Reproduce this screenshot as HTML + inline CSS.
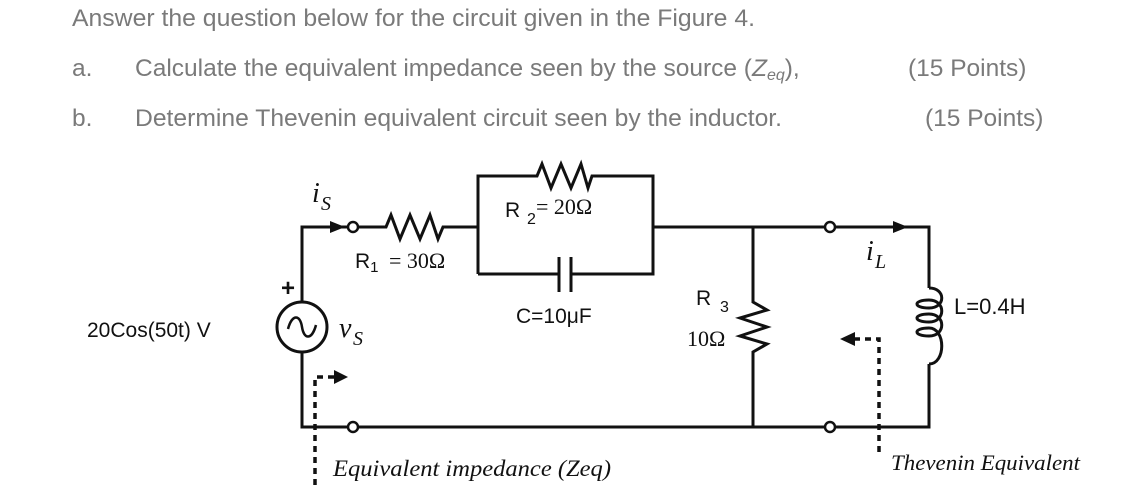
<!DOCTYPE html>
<html><head><meta charset="utf-8"><style>
html,body{margin:0;padding:0;background:#fff;}
svg{display:block;}
.q{font-family:"Liberation Sans",sans-serif;font-size:24.5px;fill:#7a7a7a;}
.s{font-family:"Liberation Sans",sans-serif;fill:#111;}
.r{font-family:"Liberation Serif",serif;fill:#111;}
.h{font-family:"Liberation Serif",serif;font-style:italic;fill:#111;}
</style></head><body>
<svg width="1147" height="502" viewBox="0 0 1147 502">
<text class="q" x="72" y="26" textLength="683" lengthAdjust="spacingAndGlyphs">Answer the question below for the circuit given in the Figure 4.</text>
<text class="q" x="72" y="76">a.</text>
<text class="q" x="135" y="76">Calculate the equivalent impedance seen by the source (<tspan font-style="italic">Z</tspan><tspan font-style="italic" style="font-size:16px" dy="4">eq</tspan><tspan dy="-4">),</tspan></text>
<text class="q" x="908" y="76">(15 Points)</text>
<text class="q" x="72" y="126">b.</text>
<text class="q" x="135" y="126" textLength="647" lengthAdjust="spacingAndGlyphs">Determine Thevenin equivalent circuit seen by the inductor.</text>
<text class="q" x="925" y="126">(15 Points)</text>

<g stroke="#111" stroke-width="3" fill="none">
<polyline points="348,227 302,227 302,302"/>
<polyline points="302,352 302,427 348,427"/>
<circle cx="302" cy="327" r="25"/>
<path d="M288,329 C292,314 300,314 302,327 C304,340 312,340 316,325" stroke-width="2.5"/>
<circle cx="353" cy="227" r="5" fill="#fff" stroke-width="2.5"/>
<circle cx="353" cy="427" r="5" fill="#fff" stroke-width="2.5"/>
<polyline points="358,227 386,227 391,215 400,239 410,215 420,239 430,215 438,239 443,227 478,227"/>
<polyline points="478,274 478,176 537,176 542,164 551,188 561,164 571,188 581,164 588,188 592,176 653,176 653,274 571,274"/>
<line x1="478" y1="274" x2="559" y2="274"/>
<line x1="559" y1="257" x2="559" y2="292"/>
<line x1="571" y1="257" x2="571" y2="292"/>
<line x1="653" y1="227" x2="825" y2="227"/>
<polyline points="835,227 929,227 929,288"/>
<circle cx="830" cy="227" r="5" fill="#fff" stroke-width="2.5"/>
<line x1="358" y1="427" x2="825" y2="427"/>
<polyline points="835,427 929,427 929,364"/>
<circle cx="830" cy="427" r="5" fill="#fff" stroke-width="2.5"/>
<polyline points="753,227 753,302 767,310 740,318 767,327 740,336 767,344 753,352 753,427"/>
<path d="M929,288 C946,288 946,308 929,308 C913,308 913,300 929,300 C946,300 946,322 929,322 C913,322 913,314 929,314 C946,314 946,336 929,336 C913,336 913,328 929,328 C946,328 946,364 929,364"/>
</g>
<polygon points="330,221 345,227 330,233" fill="#111"/>
<polygon points="893,221 908,227 893,233" fill="#111"/>
<text x="281" y="296" font-family="Liberation Sans" font-weight="bold" font-size="24" fill="#111">+</text>
<g stroke="#111" stroke-width="3.5" fill="none" stroke-dasharray="6,5">
<polyline points="315,485 315,377 335,377"/>
<polyline points="879,452 879,339 855,339"/>
</g>
<polygon points="334,370 348,377 334,384" fill="#111"/>
<polygon points="855,332 840,339 855,346" fill="#111"/>

<text class="h" x="312" y="202" style="font-size:28px">i</text><text class="h" x="321" y="210" style="font-size:20px">S</text>
<text class="s" x="355" y="268" style="font-size:21px">R<tspan style="font-size:15px" dy="4">1</tspan></text>
<text class="r" x="389" y="268" style="font-size:22px">= 30Ω</text>
<text class="s" x="505" y="217" style="font-size:21px">R</text><text class="s" x="527" y="224" style="font-size:16px">2</text>
<text class="r" x="536" y="214" style="font-size:22px">= 20Ω</text>
<text class="s" x="516" y="323" style="font-size:21px">C=10μF</text>
<text class="s" x="87" y="337" style="font-size:21px">20Cos(50t) V</text>
<text class="h" x="339" y="337" style="font-size:28px">v</text><text class="h" x="353" y="345" style="font-size:20px">S</text>
<text class="s" x="696" y="305" style="font-size:21px">R</text><text class="s" x="720" y="312" style="font-size:16px">3</text>
<text class="r" x="687" y="346" style="font-size:22px">10Ω</text>
<text class="h" x="866" y="260" style="font-size:28px">i</text><text class="h" x="875" y="268" style="font-size:20px">L</text>
<text class="s" x="954" y="314" style="font-size:22px">L=0.4H</text>
<text x="333" y="476" font-family="Liberation Serif,serif" font-style="italic" font-size="23" fill="#111" textLength="278" lengthAdjust="spacingAndGlyphs">Equivalent impedance (Zeq)</text>
<text x="891" y="470" font-family="Liberation Serif,serif" font-style="italic" font-size="22" fill="#111" textLength="189" lengthAdjust="spacingAndGlyphs">Thevenin Equivalent</text>
</svg>
</body></html>
